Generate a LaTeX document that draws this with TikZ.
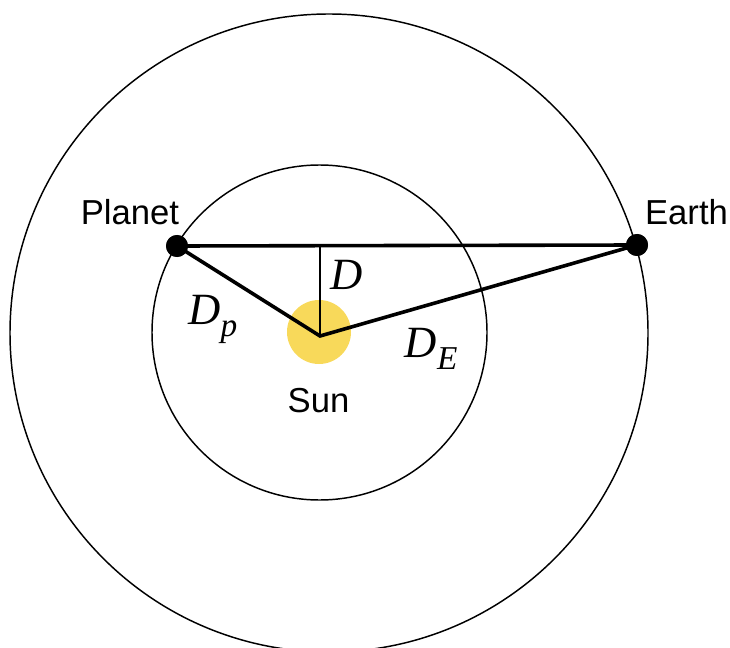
\documentclass[tikz,border=0pt]{standalone}
\usepackage{fontspec}
\setmainfont{Liberation Sans}
\newfontfamily\sserif{Liberation Serif}
\definecolor{sunyellow}{HTML}{F8D95A}
\newcommand{\subsc}[1]{\raisebox{-9.4pt}{\fontsize{25}{28}\selectfont #1}}
\begin{document}
\begin{tikzpicture}[x=0.75pt,y=-0.75pt,
  orbit/.style={draw=black,line width=1.1pt},
  leg/.style={draw=black,line width=2.7pt},
  perp/.style={draw=black,line width=1.5pt},
  dot/.style={circle,fill=black,inner sep=0pt,minimum size=16.5pt},
  sunball/.style={circle,fill=sunyellow,inner sep=0pt,minimum size=48pt},
  namelab/.style={font=\fontsize{26}{30}\selectfont,inner sep=0pt,anchor=base},
  mathlab/.style={font=\fontsize{33.5}{38}\sserif\itshape,inner sep=0pt,anchor=base west}]
\useasboundingbox (0,0) rectangle (730,648);
\begin{scope}
  \clip (0,0) rectangle (730,648);
  \draw[orbit] (329,333) circle[radius=319];
\end{scope}
\draw[orbit] (319.5,332.5) circle[radius=167.5];
\node[sunball] (sun) at (319,332) {};
\node[dot] (planet) at (177,246) {};
\node[dot] (earth) at (637,245) {};
\coordinate (v) at (320,336);
\coordinate (f) at (320,246);
\draw[leg] (planet.center) -- (earth.center);
\draw[perp] (f) -- (v);
\draw[leg] (planet.center) -- (v) -- (earth.center);
\node[dot] at (planet.center) {};
\node[dot] at (earth.center) {};
\node[namelab] (planetlab) at (130,224) {Planet};
\node[namelab] (earthlab) at (686.5,224) {Earth};
\node[namelab] (sunlab) at (318.5,412) {Sun};
\node[mathlab] (dlab) at (330,289) {D};
\node[mathlab] (dplab) at (188,324) {D\subsc{p}};
\node[mathlab] (delab) at (404,357) {D\kern0.5pt\subsc{E}};
\end{tikzpicture}
\end{document}
